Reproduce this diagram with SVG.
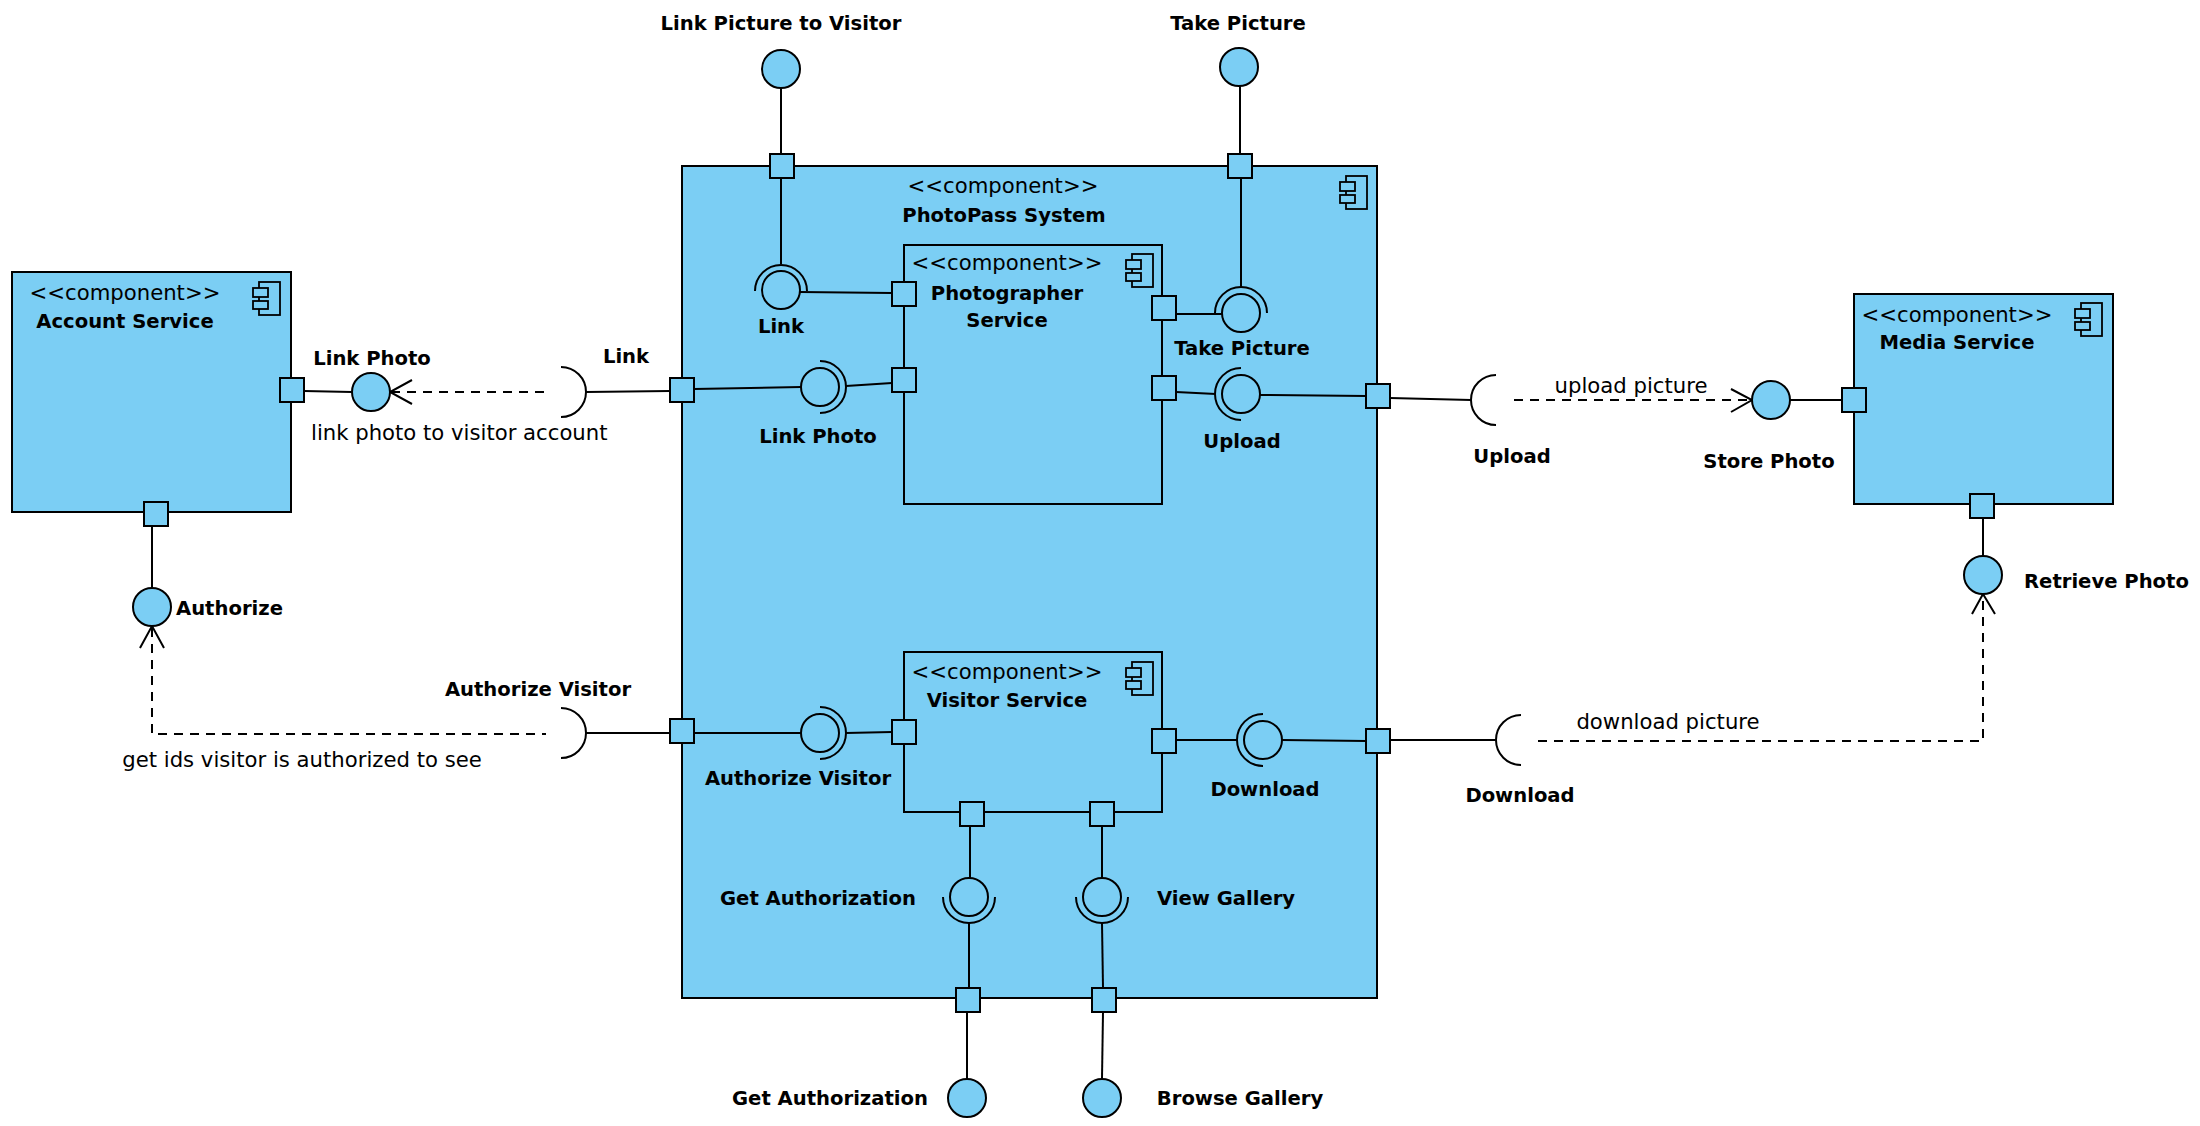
<svg xmlns="http://www.w3.org/2000/svg" xmlns:xlink="http://www.w3.org/1999/xlink" width="2200" height="1126" viewBox="0 0 2200 1126">
<style>
.box{fill:#7BCEF4;stroke:#000;stroke-width:2}
.port{fill:#7BCEF4;stroke:#000;stroke-width:2}
.ball{fill:#7BCEF4;stroke:#000;stroke-width:2}
.sock{fill:none;stroke:#000;stroke-width:2}
.ln{fill:none;stroke:#000;stroke-width:2}
.dash{fill:none;stroke:#000;stroke-width:2;stroke-dasharray:9 7}
.arr{fill:none;stroke:#000;stroke-width:2}
.icn{fill:#7BCEF4;stroke:#000;stroke-width:1.8}
text{font-family:'DejaVu Sans','Liberation Sans',sans-serif;fill:#000}
.r{font-size:21.2px}
.b{font-size:19.6px;font-weight:bold}
.m{text-anchor:middle}
</style>
<defs>
<g id="cicon">
<rect class="icn" x="6" y="0" width="21" height="33"/>
<rect class="icn" x="0" y="6" width="15" height="9"/>
<rect class="icn" x="0" y="19" width="15" height="8"/>
</g>
</defs>
<rect width="2200" height="1126" fill="#fff"/>

<g id="account-service">
<rect class="box" x="12" y="272" width="279" height="240"/>
<use xlink:href="#cicon" x="253" y="282"/>
<text class="r m" x="125" y="300">&lt;&lt;component&gt;&gt;</text>
<text class="b m" x="125" y="328">Account Service</text>
</g>

<g id="photopass-system">
<rect class="box" x="682" y="166" width="695" height="832"/>
<use xlink:href="#cicon" x="1340" y="176"/>
<text class="r m" x="1003" y="193">&lt;&lt;component&gt;&gt;</text>
<text class="b m" x="1004" y="222">PhotoPass System</text>
</g>

<g id="photographer-service">
<rect class="box" x="904" y="245" width="258" height="259"/>
<use xlink:href="#cicon" x="1126" y="254"/>
<text class="r m" x="1007" y="270">&lt;&lt;component&gt;&gt;</text>
<text class="b m" x="1007" y="300">Photographer</text>
<text class="b m" x="1007" y="327">Service</text>
</g>

<g id="visitor-service">
<rect class="box" x="904" y="652" width="258" height="160"/>
<use xlink:href="#cicon" x="1126" y="662"/>
<text class="r m" x="1007" y="679">&lt;&lt;component&gt;&gt;</text>
<text class="b m" x="1007" y="707">Visitor Service</text>
</g>

<g id="media-service">
<rect class="box" x="1854" y="294" width="259" height="210"/>
<use xlink:href="#cicon" x="2075" y="303"/>
<text class="r m" x="1957" y="322">&lt;&lt;component&gt;&gt;</text>
<text class="b m" x="1957" y="349">Media Service</text>
</g>

<g id="connectors">
<line class="ln" x1="781" y1="88" x2="781" y2="154"/>
<line class="ln" x1="781" y1="178" x2="781" y2="264"/>
<line class="ln" x1="800" y1="292" x2="892" y2="293"/>
<line class="ln" x1="1240" y1="86" x2="1240" y2="154"/>
<line class="ln" x1="1241" y1="178" x2="1241" y2="287"/>
<line class="ln" x1="1176" y1="314" x2="1222" y2="314"/>
<line class="ln" x1="304" y1="391" x2="352" y2="392"/>
<line class="dash" x1="391" y1="392" x2="546" y2="392"/>
<polyline class="arr" points="412,380 390,392 412,404"/>
<line class="ln" x1="586" y1="392" x2="670" y2="391"/>
<line class="ln" x1="694" y1="389" x2="801" y2="387"/>
<line class="ln" x1="846" y1="386" x2="892" y2="383"/>
<line class="ln" x1="1176" y1="392" x2="1216" y2="394"/>
<line class="ln" x1="1260" y1="395" x2="1366" y2="396"/>
<line class="ln" x1="1390" y1="398" x2="1471" y2="400"/>
<line class="dash" x1="1514" y1="400" x2="1750" y2="400"/>
<polyline class="arr" points="1731,389 1752,400 1731,412"/>
<line class="ln" x1="1790" y1="400" x2="1842" y2="400"/>
<line class="ln" x1="152" y1="526" x2="152" y2="588"/>
<path class="dash" d="M152,628 V734 H546"/>
<polyline class="arr" points="140,648 152,626 164,648"/>
<line class="ln" x1="586" y1="733" x2="670" y2="733"/>
<line class="ln" x1="694" y1="733" x2="801" y2="733"/>
<line class="ln" x1="846" y1="733" x2="892" y2="732"/>
<line class="ln" x1="1176" y1="740" x2="1237" y2="740"/>
<line class="ln" x1="1282" y1="740" x2="1366" y2="741"/>
<line class="ln" x1="1390" y1="740" x2="1496" y2="740"/>
<path class="dash" d="M1538,741 H1983 V596"/>
<polyline class="arr" points="1972,614 1983,594 1995,614"/>
<line class="ln" x1="1983" y1="556" x2="1983" y2="518"/>
<line class="ln" x1="970" y1="826" x2="970" y2="878"/>
<line class="ln" x1="969" y1="923" x2="969" y2="988"/>
<line class="ln" x1="967" y1="1012" x2="967" y2="1079"/>
<line class="ln" x1="1102" y1="826" x2="1102" y2="878"/>
<line class="ln" x1="1102" y1="923" x2="1103" y2="988"/>
<line class="ln" x1="1103" y1="1012" x2="1102" y2="1079"/>
</g>

<g id="if-link-picture-to-visitor">
<circle class="ball" cx="781" cy="69" r="19"/>
<text class="b m" x="781" y="30">Link Picture to Visitor</text>
<rect class="port" x="770" y="154" width="24" height="24"/>
<circle class="ball" cx="781" cy="290" r="19"/>
<path class="sock" d="M755,291 A26,26 0 0 1 807,291"/>
<text class="b m" x="781" y="333">Link</text>
<rect class="port" x="892" y="282" width="24" height="24"/>
</g>

<g id="if-take-picture">
<circle class="ball" cx="1239" cy="67" r="19"/>
<text class="b m" x="1238" y="30">Take Picture</text>
<rect class="port" x="1228" y="154" width="24" height="24"/>
<circle class="ball" cx="1241" cy="313" r="19"/>
<path class="sock" d="M1215,313 A26,26 0 0 1 1267,313"/>
<text class="b m" x="1242" y="355">Take Picture</text>
<rect class="port" x="1152" y="296" width="24" height="24"/>
</g>

<g id="if-link-photo">
<rect class="port" x="280" y="378" width="24" height="24"/>
<circle class="ball" cx="371" cy="392" r="19"/>
<text class="b m" x="372" y="365">Link Photo</text>
<text class="r" x="311" y="440">link photo to visitor account</text>
<path class="sock" d="M561,367 A25,25 0 0 1 561,417"/>
<text class="b m" x="626" y="363">Link</text>
<rect class="port" x="670" y="378" width="24" height="24"/>
<circle class="ball" cx="820" cy="387" r="19"/>
<path class="sock" d="M820,361 A26,26 0 0 1 820,413"/>
<text class="b m" x="818" y="443">Link Photo</text>
<rect class="port" x="892" y="368" width="24" height="24"/>
</g>

<g id="if-upload">
<rect class="port" x="1152" y="376" width="24" height="24"/>
<circle class="ball" cx="1241" cy="394" r="19"/>
<path class="sock" d="M1241,368 A26,26 0 0 0 1241,420"/>
<text class="b m" x="1242" y="448">Upload</text>
<rect class="port" x="1366" y="384" width="24" height="24"/>
<path class="sock" d="M1496,375 A25,25 0 0 0 1496,425"/>
<text class="b m" x="1512" y="463">Upload</text>
<text class="r m" x="1631" y="393">upload picture</text>
<circle class="ball" cx="1771" cy="400" r="19"/>
<text class="b m" x="1769" y="468">Store Photo</text>
<rect class="port" x="1842" y="388" width="24" height="24"/>
</g>

<g id="if-authorize">
<rect class="port" x="144" y="502" width="24" height="24"/>
<circle class="ball" cx="152" cy="607" r="19"/>
<text class="b" x="176" y="615">Authorize</text>
<text class="r m" x="302" y="767">get ids visitor is authorized to see</text>
<path class="sock" d="M561,708 A25,25 0 0 1 561,758"/>
<text class="b m" x="538" y="696">Authorize Visitor</text>
<rect class="port" x="670" y="719" width="24" height="24"/>
<circle class="ball" cx="820" cy="733" r="19"/>
<path class="sock" d="M820,707 A26,26 0 0 1 820,759"/>
<text class="b m" x="798" y="785">Authorize Visitor</text>
<rect class="port" x="892" y="720" width="24" height="24"/>
</g>

<g id="if-download">
<rect class="port" x="1152" y="729" width="24" height="24"/>
<circle class="ball" cx="1263" cy="740" r="19"/>
<path class="sock" d="M1263,714 A26,26 0 0 0 1263,766"/>
<text class="b m" x="1265" y="796">Download</text>
<rect class="port" x="1366" y="729" width="24" height="24"/>
<path class="sock" d="M1521,715 A25,25 0 0 0 1521,765"/>
<text class="b m" x="1520" y="802">Download</text>
<text class="r m" x="1668" y="729">download picture</text>
<circle class="ball" cx="1983" cy="575" r="19"/>
<text class="b" x="2024" y="588">Retrieve Photo</text>
<rect class="port" x="1970" y="494" width="24" height="24"/>
</g>

<g id="if-get-authorization">
<rect class="port" x="960" y="802" width="24" height="24"/>
<circle class="ball" cx="969" cy="897" r="19"/>
<path class="sock" d="M943,897 A26,26 0 0 0 995,897"/>
<text class="b m" x="818" y="905">Get Authorization</text>
<rect class="port" x="956" y="988" width="24" height="24"/>
<circle class="ball" cx="967" cy="1098" r="19"/>
<text class="b m" x="830" y="1105">Get Authorization</text>
</g>

<g id="if-view-gallery">
<rect class="port" x="1090" y="802" width="24" height="24"/>
<circle class="ball" cx="1102" cy="897" r="19"/>
<path class="sock" d="M1076,897 A26,26 0 0 0 1128,897"/>
<text class="b m" x="1226" y="905">View Gallery</text>
<rect class="port" x="1092" y="988" width="24" height="24"/>
<circle class="ball" cx="1102" cy="1098" r="19"/>
<text class="b m" x="1240" y="1105">Browse Gallery</text>
</g>
</svg>
